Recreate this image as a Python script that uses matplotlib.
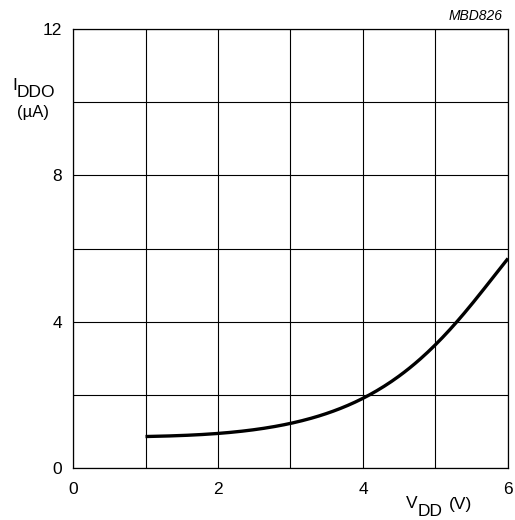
import numpy as np
import matplotlib
matplotlib.use('Agg')
import matplotlib.pyplot as plt

plt.rcParams['font.family'] = 'Liberation Sans'

# curve
vdd = [1.0, 1.5, 2.0, 2.5, 3.0, 3.5, 4.0, 4.5, 5.0, 5.29, 5.5, 6.0]
iddo = [0.86, 0.89, 0.94, 1.05, 1.22, 1.5, 1.9, 2.49, 3.41, 4.0, 4.45, 5.73]

x_ticks = [0, 2, 4, 6]
y_ticks = [0, 4, 8, 12]

W, H = 515, 520
fig = plt.figure(figsize=(W / 100, H / 100), dpi=100)
ax = fig.add_axes([73 / W, 52 / H, 435 / W, 439 / H])

# smooth the read points a little
xs = np.linspace(vdd[0], vdd[-1], 200)
coef = np.polyfit(vdd, np.log(iddo), 4)
ys = np.exp(np.polyval(coef, xs))
ax.plot(xs, ys, color='black', lw=2.4, solid_capstyle='butt')

ax.set_xlim(0, 6)
ax.set_ylim(0, 12)
ax.set_xticks(np.arange(0, 7, 1))
ax.set_yticks(np.arange(0, 13, 2))
ax.grid(True, color='black', lw=0.8)
ax.tick_params(length=0, labelsize=12.5)
ax.tick_params(axis='x', pad=10)
ax.tick_params(axis='y', pad=8)
ax.set_xticklabels([str(t) if t in x_ticks else '' for t in range(0, 7)])
ax.set_yticklabels([str(t) if t in y_ticks else '' for t in range(0, 13, 2)])
for s in ax.spines.values():
    s.set_linewidth(0.9)


def put(x, y, s, **kw):
    fig.text(x / W, 1 - y / H, s, va='baseline', **kw)


# axis labels with subscripts
put(12, 90, 'I', fontsize=12.5)
put(17, 97, 'DDO', fontsize=12.5)
put(33, 117, '(\u00b5A)', fontsize=12, ha='center')
put(406, 508, 'V', fontsize=12.5)
put(418, 516.5, 'DD', fontsize=12.5)
put(449, 509.5, '(V)', fontsize=12.5)
put(503, 20, 'MBD826', fontsize=10, style='italic', ha='right')

fig.savefig('out.png', dpi=100)
